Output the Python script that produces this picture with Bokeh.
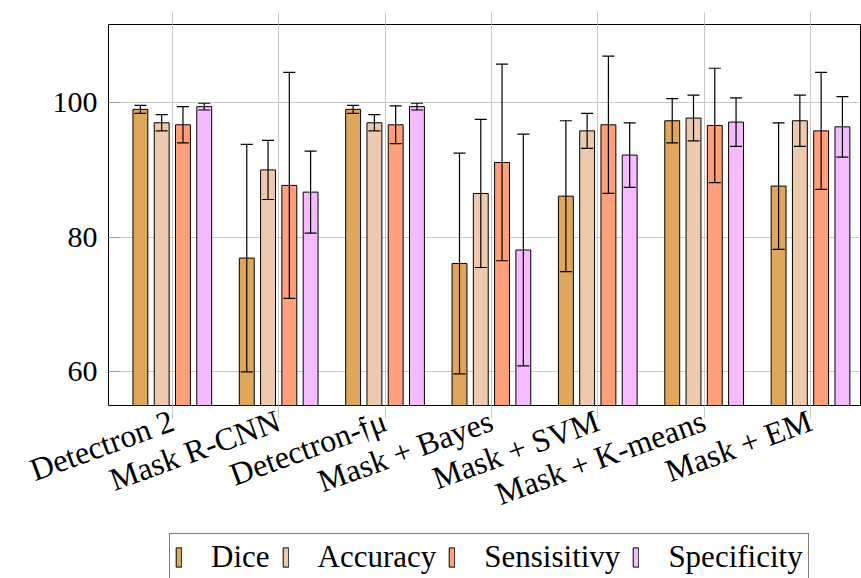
import numpy as np
from bokeh.plotting import figure
from bokeh.layouts import column
from bokeh.models import (ColumnDataSource, Range1d, LinearAxis, FixedTicker,
                          Whisker, TeeHead, Legend, LegendItem)
from bokeh.embed import file_html
from bokeh.resources import INLINE

categories = ["Detectron 2", "Mask R-CNN", "Detectron-\U0001D523\u03bc", "Mask + Bayes",
              "Mask + SVM", "Mask + K-means", "Mask + EM"]
series_names = ["Dice", "Accuracy", "Sensisitivy", "Specificity"]

dice = [99.0, 76.9, 99.0, 76.1, 86.1, 97.3, 87.6]
dice_err = [0.6, 16.9, 0.6, 16.4, 11.2, 3.3, 9.4]
accuracy = [97.0, 90.0, 97.0, 86.5, 95.8, 97.7, 97.3]
accuracy_err = [1.2, 4.4, 1.2, 11.0, 2.6, 3.4, 3.8]
sensitivity = [96.7, 87.7, 96.7, 91.1, 96.7, 96.6, 95.8]
sensitivity_err = [2.7, 16.8, 2.8, 14.6, 10.2, 8.5, 8.7]
specificity = [99.4, 86.7, 99.4, 78.1, 92.2, 97.1, 96.4]
specificity_err = [0.5, 6.1, 0.5, 17.2, 4.8, 3.6, 4.5]

y_ticks = [60, 80, 100]

colors = ["#DFA75C", "#EDC9AF", "#FFA07A", "#F4BBFF"]
offsets = [-0.3, -0.1, 0.1, 0.3]
values = [dice, accuracy, sensitivity, specificity]
errors = [dice_err, accuracy_err, sensitivity_err, specificity_err]

FONT = "Liberation Serif"
GRID = "#c8c8c8"

H_MAIN = 531
H_LEG = 578 - H_MAIN

p = figure(width=861, height=H_MAIN, output_backend="svg", toolbar_location=None,
           x_range=Range1d(-0.6, 6.47), y_range=Range1d(55, 111.6),
           min_border_left=108, min_border_right=1, min_border_top=24,
           min_border_bottom=H_MAIN - 407)
p.outline_line_color = "black"
p.outline_line_width = 1
p.outline_line_alpha = 1

# legend strip (separate canvas so the legend can sit below the axis labels)
lg = figure(width=861, height=H_LEG, output_backend="svg", toolbar_location=None,
            x_range=Range1d(0, 1), y_range=Range1d(1000, 1001),
            x_axis_type=None, y_axis_type=None,
            min_border_left=108, min_border_right=1, min_border_top=0, min_border_bottom=0)
lg.outline_line_color = None
lg.xgrid.visible = False
lg.ygrid.visible = False

base = np.arange(len(categories))
items = []
for name, vals, errs, col, off in zip(series_names, values, errors, colors, offsets):
    v = np.array(vals)
    e = np.array(errs)
    src = ColumnDataSource(dict(x=base + off, top=v, upper=v + e, lower=v - e))
    p.vbar(x="x", top="top", bottom=0, width=0.14, source=src,
           fill_color=col, line_color="black", line_width=1)
    w = Whisker(base="x", upper="upper", lower="lower", source=src,
                line_color="black", line_width=1.2, level="annotation",
                upper_head=TeeHead(size=12, line_color="black", line_width=1.2),
                lower_head=TeeHead(size=12, line_color="black", line_width=1.2))
    p.add_layout(w)
    # same data on the legend canvas (outside its visible range) to feed the legend glyph
    r = lg.vbar(x="x", top="top", bottom=0, width=0.14, source=src,
                fill_color=col, line_color="black", line_width=1)
    items.append(LegendItem(label=name, renderers=[r]))

# x axis (below)
xt = FixedTicker(ticks=list(range(len(categories))))
p.xaxis.ticker = xt
p.xaxis.major_label_overrides = {i: c for i, c in enumerate(categories)}
p.xaxis.major_label_orientation = np.deg2rad(20)
p.xaxis.major_label_text_font = FONT
p.xaxis.major_label_text_font_size = "32px"
p.xaxis.major_label_text_color = "black"
p.xaxis.major_label_standoff = 1
p.xaxis.axis_line_color = None
p.xaxis.major_tick_in = 0
p.xaxis.major_tick_out = 13
p.xaxis.major_tick_line_color = GRID
p.xaxis.minor_tick_line_color = None

top_axis = LinearAxis(ticker=xt, major_label_overrides={i: "" for i in range(len(categories))},
                      major_label_text_color=None, major_label_text_font_size="1px",
                      major_label_standoff=0, axis_line_color=None,
                      major_tick_in=0, major_tick_out=12,
                      major_tick_line_color=GRID, minor_tick_line_color=None)
p.add_layout(top_axis, "above")

# y axis
p.yaxis.ticker = FixedTicker(ticks=y_ticks)
p.yaxis.major_label_text_font = FONT
p.yaxis.major_label_text_font_size = "30px"
p.yaxis.major_label_text_color = "black"
p.yaxis.major_label_standoff = 11
p.yaxis.axis_line_color = None
p.yaxis.major_tick_in = 12
p.yaxis.major_tick_out = 0
p.yaxis.major_tick_line_color = "#a0a0a0"
p.yaxis.minor_tick_line_color = None

p.xgrid.grid_line_color = GRID
p.ygrid.grid_line_color = GRID
p.xgrid.ticker = xt
p.ygrid.ticker = FixedTicker(ticks=y_ticks)

legend = Legend(items=items, orientation="horizontal", location=(169 - 108, H_LEG - 50),
                label_text_font=FONT, label_text_font_size="31px", label_text_color="black",
                glyph_width=7, glyph_height=24, label_standoff=29,
                spacing=12, padding=5, margin=0,
                border_line_color="black", border_line_width=1,
                background_fill_color="white", background_fill_alpha=1)
lg.add_layout(legend, "center")

layout = column(p, lg, spacing=0)
open("out.html", "w").write(file_html(layout, INLINE))
